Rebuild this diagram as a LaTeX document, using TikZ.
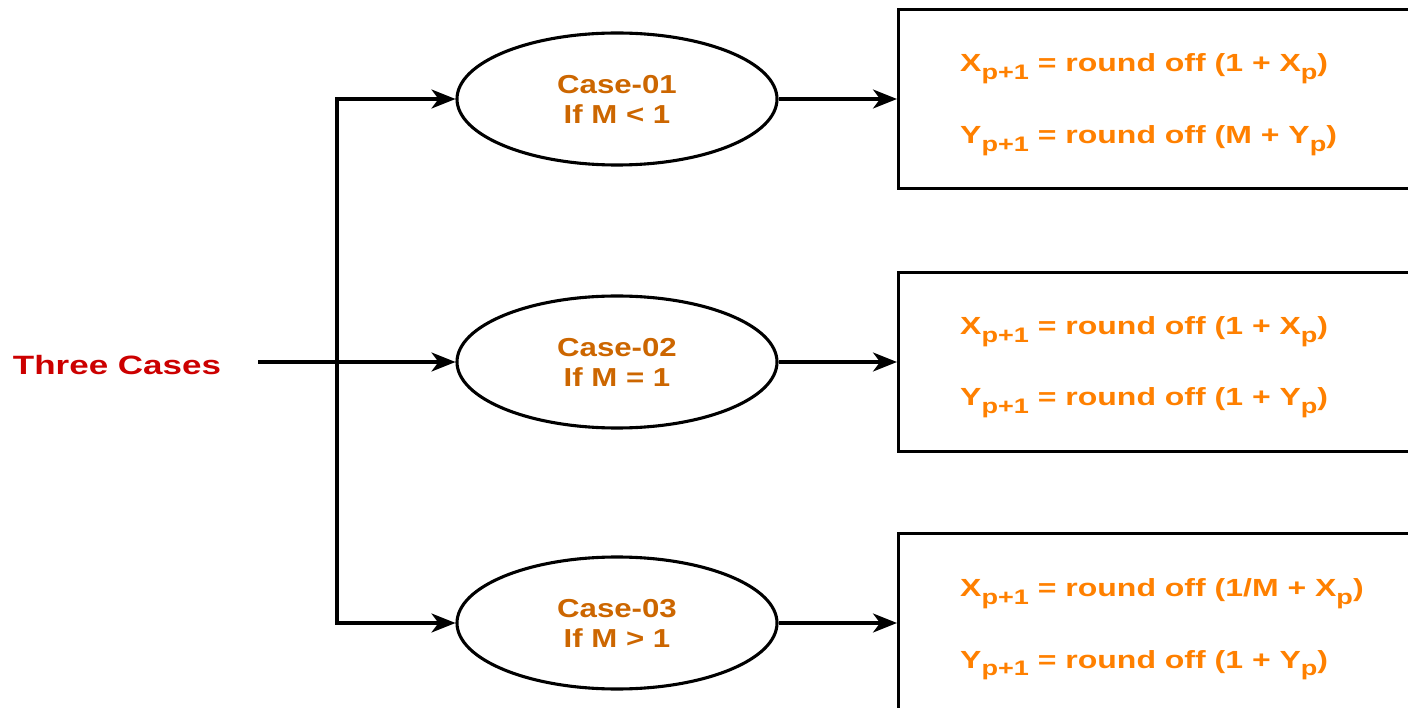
\documentclass[tikz,border=0pt]{standalone}
\usepackage{fontspec}
\setmainfont{Liberation Sans}
\newfontfamily\titlefont{Liberation Sans}[FakeStretch=1.32]
\newfontfamily\casefont{Liberation Sans}[FakeStretch=1.2]
\newfontfamily\formfont{Liberation Sans}[FakeStretch=1.29]
\usetikzlibrary{arrows.meta,shapes.geometric}
\definecolor{titlered}{HTML}{CC0000}
\definecolor{casetext}{HTML}{CC6600}
\definecolor{formtext}{HTML}{FF8000}
% lowered subscript used in the update formulas
\newcommand\lowidx[1]{\raisebox{-0.32em}{\fontsize{21}{21}\selectfont #1}}
\tikzset{
  wire/.style={line width=3.1pt, line join=miter, draw=black},
  conn/.style={wire, -{Stealth[length=24pt, width=19pt, inset=7pt]}},
  casenode/.style={ellipse, draw, line width=3.1pt, minimum width=320pt,
    minimum height=132pt, inner sep=0pt, align=center,
    font=\casefont\bfseries\fontsize{26}{30}\selectfont, text=casetext},
  resultbox/.style={rectangle, draw, line width=3.1pt, minimum width=660pt,
    minimum height=179pt, anchor=west, inner sep=0pt},
  formula/.style={anchor=base west, inner sep=0pt,
    font=\formfont\bfseries\fontsize{24.8}{24.8}\selectfont, text=formtext},
}
\begin{document}
\begin{tikzpicture}[x=1pt, y=-1pt]
\useasboundingbox (0,0) rectangle (1408,708);
\clip (0,0) rectangle (1408,708);

% source label
\node[inner sep=0pt, anchor=base, text=titlered,
  font=\titlefont\bfseries\fontsize{26.5}{26.5}\selectfont] (src) at (117,375) {Three Cases};
\coordinate (start) at (258,362);
\coordinate (fork) at (337,362);

% the three cases
\node[casenode] (e1) at (617,99)  {Case-01\\If M < 1};
\node[casenode] (e2) at (617,362) {Case-02\\If M = 1};
\node[casenode] (e3) at (617,623) {Case-03\\If M > 1};

% result boxes
\node[resultbox] (b1) at (897,99) {};
\node[resultbox] (b2) at (897,362) {};
\node[resultbox] (b3) at (897,623) {};

% formulas
\node[formula] (b1x) at (960,72)  {X\lowidx{p+1} = round off (1 + X\lowidx{p})};
\node[formula] (b1y) at (960,143.5) {Y\lowidx{p+1} = round off (M + Y\lowidx{p})};
\node[formula] (b2x) at (960,334.5) {X\lowidx{p+1} = round off (1 + X\lowidx{p})};
\node[formula] (b2y) at (960,406) {Y\lowidx{p+1} = round off (1 + Y\lowidx{p})};
\node[formula] (b3x) at (960,596.5) {X\lowidx{p+1} = round off (1/M + X\lowidx{p})};
\node[formula] (b3y) at (960,668) {Y\lowidx{p+1} = round off (1 + Y\lowidx{p})};

% connectors
\draw[conn] (start) -- (e2.west);
\draw[conn] (fork) |- (e1.west);
\draw[conn] (fork) |- (e3.west);
\draw[conn] (e1.east) -- (b1.west);
\draw[conn] (e2.east) -- (b2.west);
\draw[conn] (e3.east) -- (b3.west);
\end{tikzpicture}
\end{document}
